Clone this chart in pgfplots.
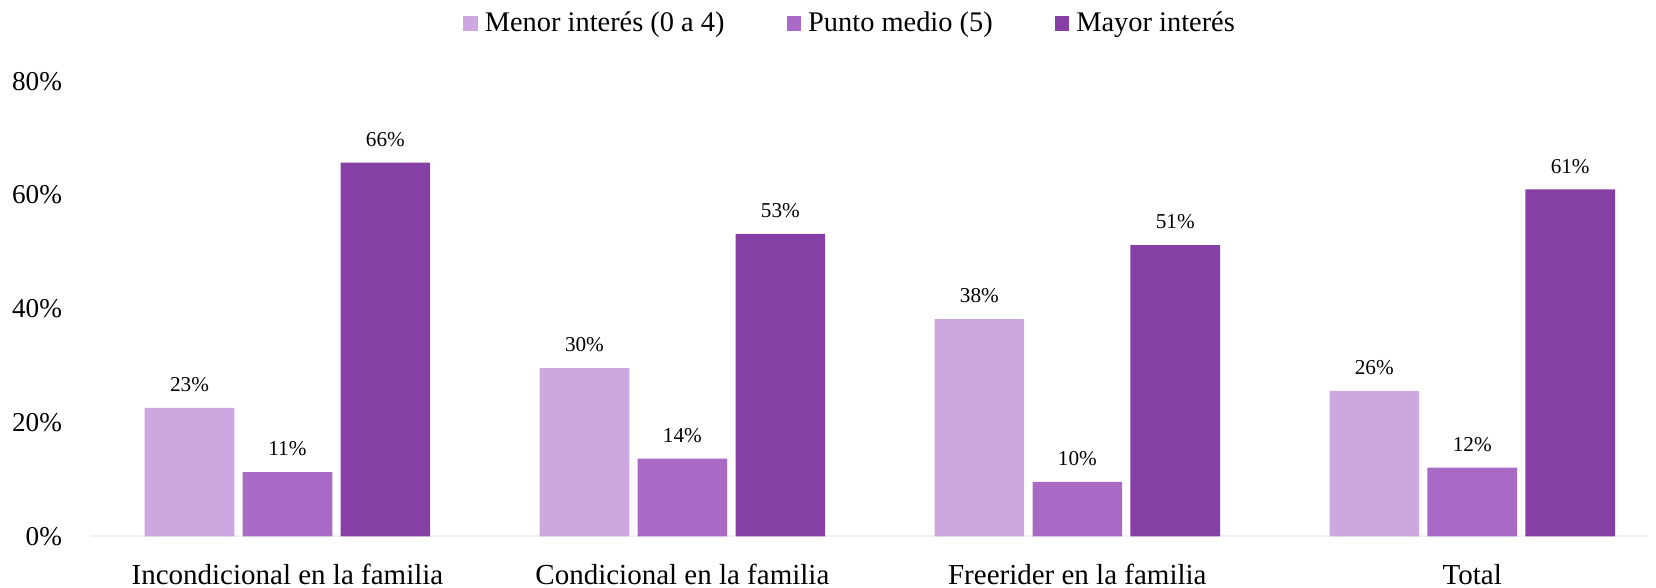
\documentclass[border=0pt]{standalone}
\usepackage{fontspec}
\setmainfont{Liberation Serif}
\usepackage{pgfplots}
\pgfplotsset{compat=1.18}
\definecolor{cA}{HTML}{CDA7DF}
\definecolor{cB}{HTML}{A96AC5}
\definecolor{cC}{HTML}{863FA5}
\begin{document}
\begin{tikzpicture}
\begin{axis}[
  at={(0pt,0pt)}, anchor=south west,
  scale only axis, width=779pt, height=227.6pt,
  xmin=-0.5, xmax=3.445, ymin=0, ymax=80,
  enlarge y limits=false,
  ytick={0,20,40,60,80},
  yticklabel={\pgfmathprintnumber{\tick}\%},
  /pgf/number format/assume math mode=true,
  xtick={0,1,2,3},
  xticklabels={Incondicional en la familia, Condicional en la familia, Freerider en la familia, Total},
  major tick length=0pt,
  axis x line=bottom, axis y line=left,
  x axis line style={-, draw=black!5, line width=1pt},
  y axis line style={draw=none},
  yticklabel style={font=\fontsize{13.6}{16}\selectfont, xshift=-10.5pt},
  xticklabel style={font=\fontsize{14.5}{17}\selectfont, yshift=-10.5pt},
  ybar, bar width=0.227,
  nodes near coords={\pgfmathprintnumber[fixed,precision=0]{\pgfplotspointmeta}\%},
  every node near coord/.append style={font=\fontsize{10.6}{12}\selectfont, black, yshift=4.5pt},
  legend style={at={(axis description cs:0.4885,1.127)}, anchor=center, draw=none, fill=none,
    legend columns=-1, font=\fontsize{14.2}{17}\selectfont,
    /tikz/every even column/.append style={column sep=29pt}},
  legend image code/.code={\fill[#1] (0pt,-3.6pt) rectangle (7.3pt,3.6pt); \path (8.8pt,0pt);},
]
\addplot[fill=cA, draw=none, bar shift=-0.248] coordinates {(0,22.6) (1,29.6) (2,38.2) (3,25.6)};
\addplot[fill=cB, draw=none, bar shift=0] coordinates {(0,11.3) (1,13.7) (2,9.6) (3,12.1)};
\addplot[fill=cC, draw=none, bar shift=0.248] coordinates {(0,65.7) (1,53.2) (2,51.2) (3,61.0)};
\legend{Menor interés (0 a 4), Punto medio (5), Mayor interés}
\end{axis}
\pgfresetboundingbox
\path[use as bounding box] (-45pt,-25.75pt) rectangle (783pt,268.25pt);
\end{tikzpicture}
\end{document}
